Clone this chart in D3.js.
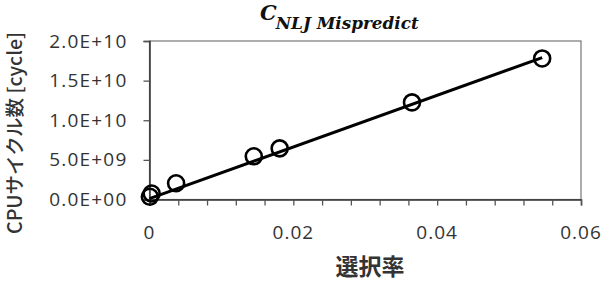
<!DOCTYPE html>
<html>
<head>
<meta charset="utf-8">
<script src="https://cdn.jsdelivr.net/npm/d3@7"></script>
<style>
  body { margin: 0; background: #fff; }
  text { font-family: "Open Sans", "Noto Sans CJK JP", sans-serif; fill: #333; }
</style>
</head>
<body>
<script>
var W = 608, H = 281;
var margin = {left: 149.5, top: 41, right: 27, bottom: 81.5},
    width = W - margin.left - margin.right,
    height = H - margin.top - margin.bottom;

// data
var selectivity = [0.00005, 0.0003, 0.0037, 0.0145, 0.0181, 0.0365, 0.0546];
var cycles = [3.5e8, 7.5e8, 2.05e9, 5.45e9, 6.45e9, 1.225e10, 1.78e10];
// trend line end points
var trendX = [0, 0.0546];
var trendY = [1.0e8, 1.79e10];

var xTicks = [0, 0.02, 0.04, 0.06];
var xTickLabels = ["0", "0.02", "0.04", "0.06"];
var xMinorStep = 0.004;
var yTicks = [0, 5e9, 1e10, 1.5e10, 2e10];
var yTickLabels = ["0.0E+00", "5.0E+09", "1.0E+10", "1.5E+10", "2.0E+10"];

var svg = d3.select("body").append("svg")
    .attr("width", W)
    .attr("height", H);
var g = svg.append("g")
    .attr("transform", "translate(" + margin.left + "," + margin.top + ")");

var x = d3.scaleLinear().domain([0, 0.06]).range([0, width]);
var y = d3.scaleLinear().domain([0, 2e10]).range([height, 0]);

// plot area border (top / right)
g.append("rect")
    .attr("x", 0).attr("y", 0)
    .attr("width", width).attr("height", height)
    .style("fill", "none")
    .style("stroke", "#777")
    .style("stroke-width", 1.2);

// minor x ticks
var minor = d3.range(0, 0.06 + 1e-9, xMinorStep);
var xAxis = g.append("g")
    .attr("transform", "translate(0," + height + ")")
    .call(d3.axisBottom(x).tickValues(minor).tickSize(6).tickFormat(""));
xAxis.select(".domain").style("stroke", "#333").style("stroke-width", 1.5);
xAxis.selectAll(".tick line").style("stroke", "#555").style("stroke-width", 1.3);

g.append("g").selectAll("text")
    .data(xTicks)
    .enter().append("text")
        .attr("x", d => x(d))
        .attr("y", height + 39)
        .attr("text-anchor", "middle")
        .style("font-size", "19px")
        .style("letter-spacing", "1px")
        .text((d, i) => xTickLabels[i]);

var yAxis = g.append("g")
    .call(d3.axisLeft(y).tickValues(yTicks).tickSize(6)
        .tickFormat((d, i) => yTickLabels[i]));
yAxis.select(".domain").style("stroke", "#333").style("stroke-width", 1.5);
yAxis.selectAll(".tick line").style("stroke", "#555").style("stroke-width", 1.3);
yAxis.selectAll(".tick text")
    .attr("x", -22)
    .style("font-size", "19px")
    .style("letter-spacing", "1.2px")
    .style("font-family", "'Open Sans', sans-serif")
    .style("fill", "#333");

// trend line
var line = d3.line().x(d => x(d[0])).y(d => y(d[1]));
g.append("path")
    .datum(d3.zip(trendX, trendY))
    .attr("d", line)
    .style("fill", "none")
    .style("stroke", "#000")
    .style("stroke-width", 3);

// markers
g.selectAll("circle")
    .data(d3.zip(selectivity, cycles))
    .enter().append("circle")
        .attr("cx", d => x(d[0]))
        .attr("cy", d => y(d[1]))
        .attr("r", 8)
        .style("fill", "none")
        .style("stroke", "#000")
        .style("stroke-width", 2.6);

// title
var title = svg.append("text")
    .attr("x", 260)
    .attr("y", 20)
    .style("font-family", "'DejaVu Serif', serif")
    .style("font-style", "italic")
    .style("font-weight", "bold")
    .style("fill", "#111");
title.append("tspan").style("font-size", "21px").text("C");
title.append("tspan").attr("dy", 9).attr("dx", -1)
    .style("font-size", "17px")
    .attr("textLength", 143)
    .attr("lengthAdjust", "spacingAndGlyphs")
    .text("NLJ  Mispredict");

// axis titles
svg.append("text")
    .attr("x", 370)
    .attr("y", 275)
    .attr("text-anchor", "middle")
    .style("font-size", "23px")
    .style("font-weight", "bold")
    .style("font-family", "'Noto Sans CJK JP', sans-serif")
    .text("選択率");

svg.append("text")
    .attr("transform", "translate(22,133) rotate(-90)")
    .attr("text-anchor", "middle")
    .style("font-size", "19.5px")
    .style("font-weight", "500")
    .style("font-family", "'Noto Sans CJK JP', sans-serif")
    .text("CPUサイクル数 [cycle]");
</script>
</body>
</html>
